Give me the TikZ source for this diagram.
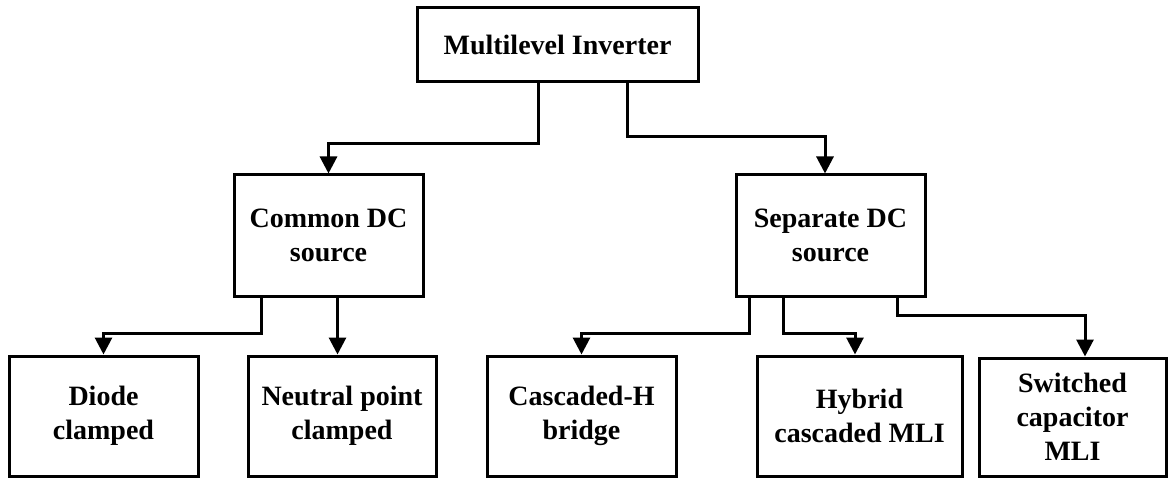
\documentclass[tikz,border=0pt]{standalone}
\usepackage{fontspec}
\setmainfont{Liberation Serif}
\usetikzlibrary{arrows.meta}
\tikzset{
  box/.style={draw, line width=3pt, rectangle, align=center, inner sep=0pt,
    font=\fontsize{28}{34}\selectfont\bfseries},
  conn/.style={line width=3pt, -{Triangle[width=17pt,length=17pt]}}
}
\begin{document}
\begin{tikzpicture}[x=1pt,y=-1pt]
\useasboundingbox (0,0) rectangle (1169,478);
\node[box, minimum width=281pt, minimum height=74pt] (top) at (557.5,45) {Multilevel Inverter};
\node[box, minimum width=189pt, minimum height=121pt] (common) at (328.5,235.5) {Common DC\\source};
\node[box, minimum width=189pt, minimum height=121pt] (separate) at (830.5,235.5) {Separate DC\\source};
\node[box, minimum width=189pt, minimum height=120pt] (diode) at (103.5,416) {Diode\\clamped};
\node[box, minimum width=188pt, minimum height=120pt] (neutral) at (342,416) {Neutral point\\clamped};
\node[box, minimum width=189pt, minimum height=120pt] (cascaded) at (581.5,416) {Cascaded-H\\bridge};
\node[box, minimum width=205pt, minimum height=120pt] (hybrid) at (859.5,416) {Hybrid\\cascaded MLI};
\node[box, minimum width=187pt, minimum height=118pt] (switched) at (1072.5,417) {Switched\\capacitor\\MLI};

\draw[conn] ([xshift=-19.5pt]top.south) -- ++(0,60) -| (common.north);
\draw[conn] ([xshift=69.5pt]top.south) -- ++(0,53) -| ([xshift=-5.5pt]separate.north);
\draw[conn] ([xshift=-67.5pt]common.south) -- ++(0,36) -| (diode.north);
\draw[conn] ([xshift=9pt]common.south) -- ([xshift=-4.5pt]neutral.north);
\draw[conn] ([xshift=-81.5pt]separate.south) -- ++(0,36) -| (cascaded.north);
\draw[conn] ([xshift=-47.5pt]separate.south) -- ++(0,36) -| ([xshift=-4.5pt]hybrid.north);
\draw[conn] ([xshift=66.5pt]separate.south) -- ++(0,18) -| ([xshift=12.5pt]switched.north);
\end{tikzpicture}
\end{document}
